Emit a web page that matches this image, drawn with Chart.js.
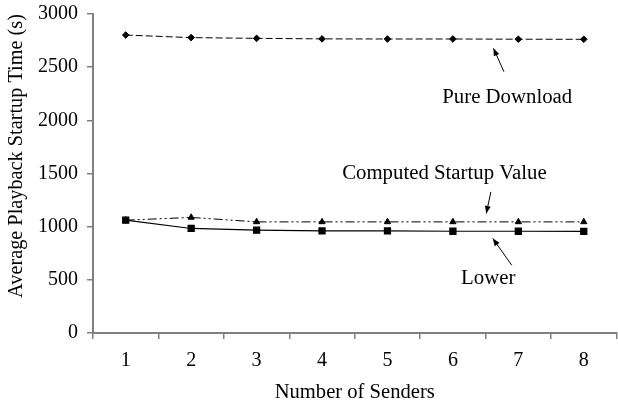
<!DOCTYPE html>
<html>
<head>
<meta charset="utf-8">
<script src="https://cdn.jsdelivr.net/npm/chart.js@4.4.0/dist/chart.umd.min.js"></script>
<style>
  html, body { margin: 0; padding: 0; background: #fff; overflow: hidden; }
  #wrap { width: 622px; height: 409px; }
</style>
</head>
<body>
<div id="wrap"><canvas id="startupChart" width="622" height="409"></canvas></div>
<script>
// values
const senders = ['1', '2', '3', '4', '5', '6', '7', '8'];
const pureDownload = [2802, 2778, 2771, 2766, 2765, 2765, 2763, 2762];
const computedStartup = [1061, 1087, 1045, 1045, 1045, 1045, 1045, 1045];
const lowerBound = [1061, 983, 967, 960, 960, 957, 957, 955];
const yTicks = [0, 500, 1000, 1500, 2000, 2500, 3000];

const FONT = '"Liberation Serif", "Times New Roman", serif';
const AXIS_GREY = '#808080';

// callout labels + arrows, in data coordinates (x = category index)
const callouts = [
  { text: 'Pure Download', tx: 5.83, ty: 2219, from: [5.78, 2457], to: [5.62, 2677] },
  { text: 'Computed Startup Value', tx: 4.87, ty: 1503, from: [5.58, 1327], to: [5.51, 1124] },
  { text: 'Lower', tx: 5.54, ty: 515, from: [5.90, 637], to: [5.61, 889] }
];

const calloutPlugin = {
  id: 'callouts',
  afterDatasetsDraw(chart) {
    const { ctx, scales: { x, y } } = chart;
    ctx.save();
    ctx.fillStyle = '#000';
    ctx.strokeStyle = '#000';
    ctx.lineWidth = 1;
    ctx.font = '20.8px ' + FONT;
    ctx.textAlign = 'center';
    ctx.textBaseline = 'middle';
    callouts.forEach(c => {
      ctx.fillText(c.text, x.getPixelForValue(c.tx), y.getPixelForValue(c.ty));
      const x1 = x.getPixelForValue(c.from[0]), y1 = y.getPixelForValue(c.from[1]);
      const x2 = x.getPixelForValue(c.to[0]), y2 = y.getPixelForValue(c.to[1]);
      ctx.beginPath();
      ctx.moveTo(x1, y1);
      ctx.lineTo(x2, y2);
      ctx.stroke();
      const ang = Math.atan2(y2 - y1, x2 - x1);
      const len = 8, w = 0.38;
      ctx.beginPath();
      ctx.moveTo(x2, y2);
      ctx.lineTo(x2 - len * Math.cos(ang - w), y2 - len * Math.sin(ang - w));
      ctx.lineTo(x2 - len * Math.cos(ang + w), y2 - len * Math.sin(ang + w));
      ctx.closePath();
      ctx.fill();
    });
    ctx.restore();
  }
};

new Chart(document.getElementById('startupChart').getContext('2d'), {
  type: 'line',
  data: {
    labels: senders,
    datasets: [
      {
        label: 'Pure Download',
        data: pureDownload,
        borderColor: '#000', backgroundColor: '#000', borderWidth: 1,
        borderDash: [7, 3],
        pointStyle: 'rectRot', pointRadius: 3.3
      },
      {
        label: 'Computed Startup Value',
        data: computedStartup,
        borderColor: '#000', backgroundColor: '#000', borderWidth: 1,
        borderDash: [9, 3, 2, 3, 2, 3],
        pointStyle: 'triangle', pointRadius: 3.6
      },
      {
        label: 'Lower',
        data: lowerBound,
        borderColor: '#000', backgroundColor: '#000', borderWidth: 1.2,
        pointStyle: 'rect', pointRadius: 4.3
      }
    ]
  },
  options: {
    responsive: false,
    animation: false,
    layout: { padding: { top: 0, right: 2, left: 0, bottom: 0 } },
    plugins: { legend: { display: false }, tooltip: { enabled: false } },
    scales: {
      x: {
        offset: true,
        grid: { offset: true, drawOnChartArea: false, color: AXIS_GREY, tickLength: 6, lineWidth: 1.5 },
        border: { color: AXIS_GREY, width: 2 },
        ticks: { color: '#000', font: { family: FONT, size: 20 }, padding: 10, maxRotation: 0 },
        title: { display: true, text: 'Number of Senders', color: '#000', font: { family: FONT, size: 20.6 }, padding: { top: 12 } },
        afterFit(s) { s.height = 76; }
      },
      y: {
        min: 0, max: 3000,
        afterBuildTicks(s) { s.ticks = yTicks.map(v => ({ value: v })); },
        grid: { drawOnChartArea: false, color: AXIS_GREY, tickLength: 6, lineWidth: 1.5 },
        border: { color: AXIS_GREY, width: 2 },
        ticks: { color: '#000', font: { family: FONT, size: 20 }, padding: 9, callback: v => String(v) },
        title: { display: true, align: 'end', text: 'Average Playback Startup Time (s)', color: '#000', font: { family: FONT, size: 20.3 }, padding: { bottom: 2 } },
        afterFit(s) { s.width = 93; s.paddingTop = 14; s.paddingBottom = 0; }
      }
    }
  },
  plugins: [calloutPlugin]
});
</script>
</body>
</html>
